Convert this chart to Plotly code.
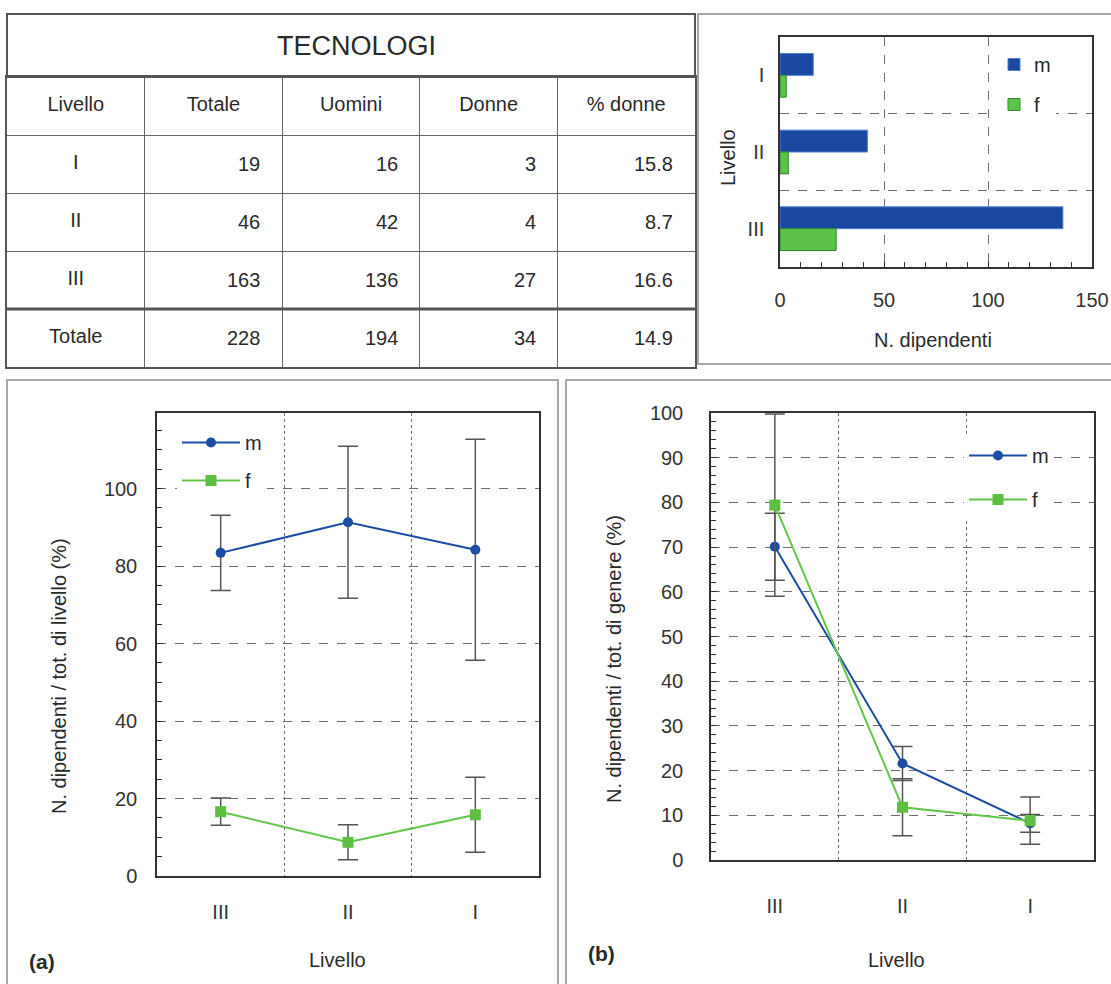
import plotly.graph_objects as go

# ---------------- data ----------------
table_title = "TECNOLOGI"
table_headers = ["Livello", "Totale", "Uomini", "Donne", "% donne"]
table_levels = ["I", "II", "III", "Totale"]
tot_all = [19, 46, 163, 228]
tot_men = [16, 42, 136, 194]
tot_women = [3, 4, 27, 34]
pct_women = [15.8, 8.7, 16.6, 14.9]

bar_levels = ["I", "II", "III"]
bar_m = [16, 42, 136]
bar_f = [3, 4, 27]

line_levels = ["III", "II", "I"]
a_m = [83.4, 91.3, 84.2]
a_m_err = [9.7, 19.6, 28.5]
a_f = [16.6, 8.7, 15.8]
a_f_err = [3.5, 4.5, 9.7]

b_m = [70.1, 21.6, 8.2]
b_m_err = [7.5, 3.8, 2.0]
b_f = [79.4, 11.8, 8.8]
b_f_err = [20.4, 6.4, 5.3]

# ---------------- geometry helpers ----------------
W, H = 1111, 984
def px(x):
    return min(1.0, max(0.0, x / W))
def py(y):
    return min(1.0, max(0.0, 1 - y / H))
def pxu(x):
    return x / W
def pyu(y):
    return 1 - y / H

FONT = "Liberation Sans, Arial, Helvetica, sans-serif"
BLUE = "#1d4ca4"
GREEN = "#63c64b"
TXT = "#2a2a2a"
TICK = "#333333"
GRID = "#6f6f6f"
ERR = "#555555"
FS = 20

fig = go.Figure()

# ---------------- bar chart ----------------
fig.add_trace(go.Bar(y=bar_levels, x=bar_m, name="m", orientation="h",
                     marker=dict(color="#1a48a0", line=dict(color="#4f7fd4", width=1)),
                     xaxis="x", yaxis="y", legend="legend2", legendgroup="bm"))
fig.add_trace(go.Bar(y=bar_levels, x=bar_f, name="f", orientation="h",
                     marker=dict(color="#5cc24a", line=dict(color="#2e8a2a", width=1)),
                     xaxis="x", yaxis="y", legend="legend2", legendgroup="bf"))

# ---------------- (a) ----------------
fig.add_trace(go.Scatter(x=line_levels, y=a_m, name="m", mode="lines+markers",
                         line=dict(color=BLUE, width=2),
                         marker=dict(symbol="circle", size=10, color=BLUE),
                         error_y=dict(type="data", array=a_m_err, color=ERR, thickness=1.5, width=10),
                         xaxis="x2", yaxis="y2", legend="legend3", legendgroup="am"))
fig.add_trace(go.Scatter(x=line_levels, y=a_f, name="f", mode="lines+markers",
                         line=dict(color=GREEN, width=2),
                         marker=dict(symbol="square", size=11, color="#5cbf42"),
                         error_y=dict(type="data", array=a_f_err, color=ERR, thickness=1.5, width=10),
                         xaxis="x2", yaxis="y2", legend="legend3", legendgroup="af"))

# ---------------- (b) ----------------
fig.add_trace(go.Scatter(x=line_levels, y=b_m, name="m", mode="lines+markers",
                         line=dict(color=BLUE, width=2),
                         marker=dict(symbol="circle", size=10, color=BLUE),
                         error_y=dict(type="data", array=b_m_err, color=ERR, thickness=1.5, width=10),
                         xaxis="x3", yaxis="y3", legend="legend", legendgroup="bm2"))
fig.add_trace(go.Scatter(x=line_levels, y=b_f, name="f", mode="lines+markers",
                         line=dict(color=GREEN, width=2),
                         marker=dict(symbol="square", size=11, color="#5cbf42"),
                         error_y=dict(type="data", array=b_f_err, color=ERR, thickness=1.5, width=10),
                         xaxis="x3", yaxis="y3", legend="legend", legendgroup="bf2"))

# ---------------- table (cartesian grid) ----------------
row_keys = [table_headers[0]] + table_levels
fig.add_trace(go.Scatter(
    x=table_headers + [table_headers[0]] * len(table_levels),
    y=[row_keys[0]] * len(table_headers) + table_levels,
    text=table_headers + table_levels,
    mode="text", textposition="middle center",
    textfont=dict(family=FONT, size=20, color=TXT),
    showlegend=False, hoverinfo="skip", xaxis="x4", yaxis="y4"))

annotations = []
num_cols = [tot_all, tot_men, tot_women, pct_women]
for ci, col in enumerate(num_cols):
    for ri, v in enumerate(col):
        txt = f"{v:.1f}" if ci == 3 else f"{v:d}"
        annotations.append(dict(x=table_headers[ci + 1], y=table_levels[ri], xref="x4", yref="y4",
                                text=txt, showarrow=False, xanchor="right", yanchor="middle",
                                xshift=49, font=dict(family=FONT, size=20, color=TXT)))

def ann(text, x, y, size=FS, angle=0, bold=False):
    annotations.append(dict(x=pxu(x), y=pyu(y), xref="paper", yref="paper",
                            text=f"<b>{text}</b>" if bold else text, showarrow=False,
                            textangle=angle, xanchor="center", yanchor="middle",
                            font=dict(family=FONT, size=size, color=TXT)))

ann(table_title, 356, 46, size=27)
ann("Livello", 728, 158, angle=-90)
ann("N. dipendenti", 933, 340)
ann("N. dipendenti / tot. di livello (%)", 59, 676, angle=-90)
ann("Livello", 337, 960)
ann("(a)", 42, 961, size=21, bold=True)
ann("N. dipendenti / tot. di genere (%)", 614, 659, angle=-90)
ann("Livello", 896, 960)
ann("(b)", 602, 953, size=21, bold=True)

# ---------------- shapes (panel frames) ----------------
shapes = [
    dict(type="rect", xref="paper", yref="paper", x0=pxu(7), x1=pxu(695), y0=pyu(77), y1=pyu(14),
         line=dict(color="#555555", width=2)),
    dict(type="line", xref="x4 domain", yref="y4", x0=0, x1=1, y0=3.5, y1=3.5,
         line=dict(color="#555555", width=3)),
    dict(type="rect", xref="paper", yref="paper", x0=pxu(698), x1=pxu(1120), y0=pyu(364), y1=pyu(14),
         line=dict(color="#a8a8a8", width=2)),
    dict(type="rect", xref="paper", yref="paper", x0=pxu(7), x1=pxu(558), y0=pyu(995), y1=pyu(380),
         line=dict(color="#a8a8a8", width=2)),
    dict(type="rect", xref="paper", yref="paper", x0=pxu(566), x1=pxu(1120), y0=pyu(995), y1=pyu(380),
         line=dict(color="#a8a8a8", width=2)),
]

tickfont = dict(family=FONT, size=FS, color=TICK)
frame = dict(showline=True, mirror=True, linecolor="#333333", linewidth=1.5, zeroline=False,
             automargin=False)

fig.update_layout(
    width=W, height=H, margin=dict(l=0, r=0, t=0, b=0, pad=0, autoexpand=False),
    paper_bgcolor="white", plot_bgcolor="white",
    font=dict(family=FONT, color=TXT),
    barmode="group", bargap=0.43, bargroupgap=0,
    annotations=annotations, shapes=shapes,
    # bar chart axes
    xaxis=dict(domain=[px(780), px(1092)], anchor="y", range=[0, 150], tick0=0, dtick=50,
               ticks="inside", ticklen=6, tickcolor="#333", showgrid=True, gridcolor=GRID,
               griddash="dash", gridwidth=1, tickfont=tickfont, ticklabelstandoff=14,
               ticklabeloverflow="allow",
               minor=dict(dtick=10, ticks="inside", ticklen=5, tickcolor="#333", showgrid=False),
               **frame),
    yaxis=dict(domain=[py(267), py(37)], anchor="x", type="category",
               categoryorder="array", categoryarray=bar_levels, autorange="reversed",
               tickson="boundaries", ticks="", showgrid=True, gridcolor=GRID, griddash="dash",
               tickfont=tickfont, ticklabelstandoff=10, **frame),
    # (a)
    xaxis2=dict(domain=[px(157), px(539)], anchor="y2", type="category",
                categoryorder="array", categoryarray=line_levels, range=[-0.5, 2.5],
                tickson="boundaries", ticks="", showgrid=True, gridcolor=GRID, griddash="dot",
                tickfont=tickfont, ticklabelstandoff=17, **frame),
    yaxis2=dict(domain=[py(876), py(413)], anchor="x2", range=[0, 119.5], tick0=0, dtick=20,
                ticks="inside", ticklen=6, tickcolor="#333", showgrid=True, gridcolor=GRID,
                griddash="dash", tickfont=tickfont, ticklabelstandoff=14,
                minor=dict(dtick=5, ticks="inside", ticklen=5, tickcolor="#333", showgrid=False),
                **frame),
    # (b)
    xaxis3=dict(domain=[px(711), px(1094)], anchor="y3", type="category",
                categoryorder="array", categoryarray=line_levels, range=[-0.5, 2.5],
                tickson="boundaries", ticks="", showgrid=True, gridcolor=GRID, griddash="dot",
                tickfont=tickfont, ticklabelstandoff=27, **frame),
    yaxis3=dict(domain=[py(860), py(413)], anchor="x3", range=[0, 100], tick0=0, dtick=10,
                ticks="inside", ticklen=6, tickcolor="#333", showgrid=True, gridcolor=GRID,
                griddash="dash", tickfont=tickfont, ticklabelstandoff=22,
                minor=dict(dtick=2, ticks="inside", ticklen=5, tickcolor="#333", showgrid=False),
                **frame),
    # table
    xaxis4=dict(domain=[px(7), px(695)], anchor="y4", type="category",
                categoryorder="array", categoryarray=table_headers, range=[-0.5, 4.5],
                tickson="boundaries", ticks="", showticklabels=False, showgrid=True,
                gridcolor="#666666", gridwidth=1, showline=True, mirror=True,
                linecolor="#555555", linewidth=2, zeroline=False, fixedrange=True,
                automargin=False),
    yaxis4=dict(domain=[py(367), py(77)], anchor="x4", type="category",
                categoryorder="array", categoryarray=row_keys, range=[4.5, -0.5],
                tickson="boundaries", ticks="", showticklabels=False, showgrid=True,
                gridcolor="#666666", gridwidth=1, showline=True, mirror=True,
                linecolor="#555555", linewidth=2, zeroline=False, fixedrange=True,
                automargin=False),
    legend=dict(x=px(964), y=py(436), xanchor="left", yanchor="top", bgcolor="white",
                font=dict(family=FONT, size=FS, color=TXT), tracegroupgap=15, itemwidth=58),
    legend2=dict(x=px(994), y=py(45), xanchor="left", yanchor="top", bgcolor="white",
                 font=dict(family=FONT, size=FS, color=TXT), tracegroupgap=11),
    legend3=dict(x=px(177), y=py(423), xanchor="left", yanchor="top", bgcolor="white",
                 font=dict(family=FONT, size=FS, color=TXT), tracegroupgap=9, itemwidth=58),
    showlegend=True,
)

fig.write_html("out.html")
